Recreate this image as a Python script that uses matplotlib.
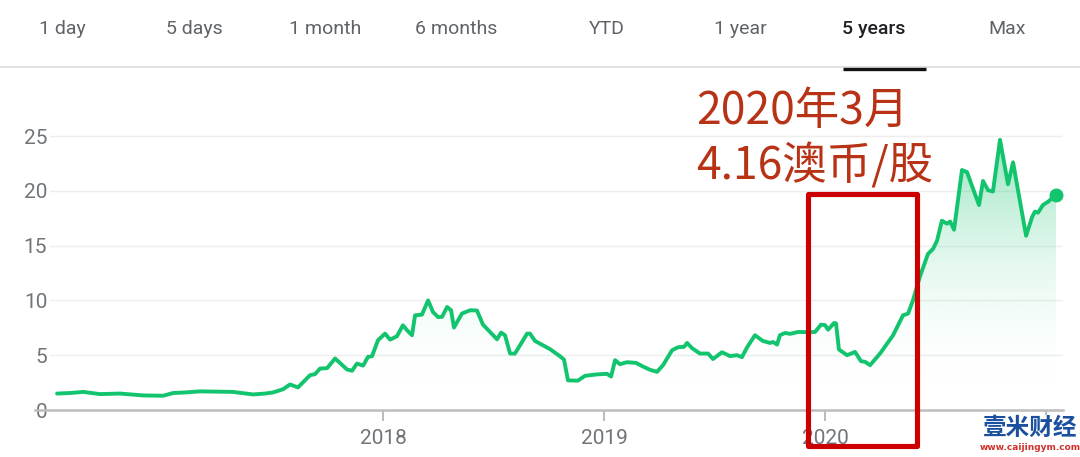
import matplotlib
matplotlib.use('Agg')
import matplotlib.pyplot as plt
import numpy as np
from matplotlib.patches import Rectangle, Polygon
from matplotlib.lines import Line2D
from matplotlib.colors import to_rgb

# ---------------- data ----------------
dates = [2016.525, 2016.584, 2016.643, 2016.719, 2016.810, 2016.914, 2017.005, 2017.050,
         2017.104, 2017.172, 2017.240, 2017.321, 2017.412, 2017.466, 2017.502, 2017.548,
         2017.579, 2017.615, 2017.670, 2017.692, 2017.715, 2017.747, 2017.783, 2017.837,
         2017.860, 2017.882, 2017.910, 2017.932, 2017.950, 2017.977, 2018.009, 2018.032,
         2018.063, 2018.090, 2018.109, 2018.131, 2018.145, 2018.176, 2018.204, 2018.226,
         2018.249, 2018.267, 2018.290, 2018.308, 2018.321, 2018.357, 2018.394, 2018.425,
         2018.452, 2018.516, 2018.534, 2018.552, 2018.575, 2018.597, 2018.652, 2018.665,
         2018.688, 2018.756, 2018.801, 2018.819, 2018.837, 2018.882, 2018.914, 2018.968,
         2019.014, 2019.032, 2019.050, 2019.072, 2019.104, 2019.145, 2019.176, 2019.208,
         2019.240, 2019.267, 2019.308, 2019.335, 2019.362, 2019.376, 2019.398, 2019.434,
         2019.471, 2019.493, 2019.534, 2019.570, 2019.602, 2019.624, 2019.647, 2019.683,
         2019.719, 2019.751, 2019.765, 2019.783, 2019.796, 2019.819, 2019.842, 2019.878,
         2019.932, 2019.955, 2019.982, 2020.000, 2020.014, 2020.041, 2020.050, 2020.063,
         2020.100, 2020.136, 2020.163, 2020.181, 2020.204, 2020.249, 2020.308, 2020.353,
         2020.376, 2020.398, 2020.430, 2020.466, 2020.489, 2020.507, 2020.529, 2020.552,
         2020.566, 2020.584, 2020.620, 2020.643, 2020.665, 2020.697, 2020.715, 2020.738,
         2020.760, 2020.792, 2020.828, 2020.851, 2020.910, 2020.937, 2020.950, 2020.964,
         2020.986, 2021.009, 2021.045]
prices = [1.50, 1.55, 1.65, 1.45, 1.50, 1.33, 1.30, 1.55,
          1.60, 1.70, 1.68, 1.65, 1.42, 1.50, 1.60, 1.90,
          2.33, 2.06, 3.18, 3.27, 3.78, 3.82, 4.70, 3.70,
          3.58, 4.24, 4.05, 4.85, 4.90, 6.36, 6.97, 6.42,
          6.73, 7.73, 7.27, 6.82, 8.64, 8.70, 10.00, 8.94,
          8.48, 8.50, 9.40, 9.10, 7.52, 8.80, 9.10, 9.08,
          7.80, 6.45, 7.06, 6.82, 5.15, 5.15, 6.97, 6.97,
          6.30, 5.55, 4.90, 4.60, 2.70, 2.68, 3.12, 3.25,
          3.30, 3.05, 4.55, 4.18, 4.36, 4.30, 3.97, 3.67,
          3.48, 4.09, 5.45, 5.73, 5.76, 6.12, 5.65, 5.15,
          5.15, 4.65, 5.27, 4.92, 5.00, 4.82, 5.70, 6.82,
          6.30, 6.12, 6.20, 5.97, 6.82, 7.03, 6.95, 7.12,
          7.10, 7.12, 7.79, 7.75, 7.33, 7.94, 7.90, 5.52,
          5.00, 5.30, 4.45, 4.40, 4.09, 5.15, 6.82, 8.64,
          8.80, 10.00, 12.20, 14.24, 14.70, 15.45, 17.27, 17.00,
          17.20, 16.45, 21.90, 21.70, 20.45, 18.70, 20.90, 20.05,
          19.94, 24.65, 20.60, 22.60, 15.90, 17.60, 18.10, 18.00,
          18.70, 19.00, 19.60]

tabs = ["1 day", "5 days", "1 month", "6 months", "YTD", "1 year", "5 years", "Max"]
active_tab = "5 years"
year_ticks = [2018, 2019, 2020, 2021]
year_labels = ["2018", "2019", "2020", ""]   # 2021 label is hidden under the watermark
y_ticks = [0, 5, 10, 15, 20, 25]
note_line1 = "2020年3月"
note_line2 = "4.16澳币/股"
watermark = "壹米财经"
watermark_url = "www.caijingym.com"

# ---------------- layout / style ----------------
W, H = 1080, 457
GREEN = '#12c46e'
GRAY_TXT = '#70757a'
TAB_TXT = '#5f6368'
tab_x = [62, 194, 325, 456, 607, 740, 874, 1007]

fig = plt.figure(figsize=(W / 100, H / 100), dpi=100)
fig.patch.set_facecolor('white')

px_per_unit = 10.96
ax = fig.add_axes([50 / W, (H - 410) / H, 1013 / W, 27 * px_per_unit / H])
for s in ax.spines.values():
    s.set_visible(False)

x0, x1 = 2016.493, 2021.077

# grid
for yv in y_ticks[1:]:
    ax.axhline(yv, color='#eeeeee', lw=1.0, zorder=0)

# gradient fill under line
n = 256
g = np.linspace(0, 1, n)[:, None]
rgba = np.zeros((n, 1, 4))
rgba[..., :3] = to_rgb(GREEN)
rgba[..., 3] = 0.45 * g ** 2.2
ymax = max(prices)
im = ax.imshow(rgba, extent=[dates[0], dates[-1], 0, ymax], origin='lower',
               aspect='auto', zorder=1, interpolation='bilinear')
verts = [(dates[0], 0)] + list(zip(dates, prices)) + [(dates[-1], 0)]
clip = Polygon(verts, closed=True, facecolor='none', edgecolor='none')
ax.add_patch(clip)
im.set_clip_path(clip)

ax.plot(dates, prices, color=GREEN, lw=2.8, solid_joinstyle='round',
        solid_capstyle='round', zorder=3)
ax.plot(dates[-1], prices[-1], 'o', color=GREEN, ms=9, zorder=4)

ax.set_xlim(x0, x1)
ax.set_ylim(0, 27)

ax.set_yticks(y_ticks)
ax.set_yticklabels([str(v) for v in y_ticks])
ax.tick_params(axis='y', length=0, pad=2, labelsize=15, labelcolor=GRAY_TXT)
for lab in ax.get_yticklabels():
    lab.set_fontfamily('Roboto')

ax.set_xticks(year_ticks)
ax.set_xticklabels(year_labels)
ax.tick_params(axis='x', length=8, width=1.5, color='#bdbdbd', pad=6,
               labelsize=15, labelcolor=GRAY_TXT)
for lab in ax.get_xticklabels():
    lab.set_fontfamily('Roboto')

# baseline
fig.add_artist(Line2D([35 / W, 1063 / W], [1 - 410 / H, 1 - 410 / H],
                      color='#bdbdbd', lw=1.8, zorder=5))

# tabs
for t, cx in zip(tabs, tab_x):
    active = (t == active_tab)
    fig.text(cx / W, 1 - 29 / H, t, ha='center', va='center', fontsize=14,
             family='Roboto', color='#202124' if active else TAB_TXT,
             fontweight='medium' if active else 'normal')
fig.add_artist(Line2D([0, 1], [1 - 67 / H, 1 - 67 / H], color='#dadce0', lw=1.2))
fig.add_artist(Line2D([843 / W, 926 / W], [1 - 68.5 / H, 1 - 68.5 / H],
                      color='#111111', lw=2.4, solid_capstyle='butt'))

# red box
rect = Rectangle((807.5 / W, 1 - 445.5 / H), 109 / W, 251 / H, transform=fig.transFigure,
                 fill=False, edgecolor='#cc0000', lw=3.7, joinstyle='round', zorder=10)
fig.add_artist(rect)

# annotation
cjk = ['Noto Sans CJK SC', 'DejaVu Sans']
fig.text(696 / W, 1 - 124 / H, note_line1, ha='left', va='baseline', fontsize=32,
         family=cjk, color='#b83216')
fig.text(696 / W, 1 - 179 / H, note_line2, ha='left', va='baseline', fontsize=32,
         family=cjk, color='#b83216')

# watermark
fig.text(1030 / W, 1 - 428 / H, watermark, ha='center', va='center', fontsize=17,
         family=cjk, fontweight='bold', color='#1b4fa0', zorder=20,
         bbox=dict(facecolor='white', edgecolor='none', alpha=0.85, pad=1))
fig.text(1030 / W, 1 - 448 / H, watermark_url, ha='center', va='center', fontsize=6.5,
         family='DejaVu Sans', fontweight='bold', color='#d0312d', zorder=20)

fig.savefig('out.png', dpi=100)
